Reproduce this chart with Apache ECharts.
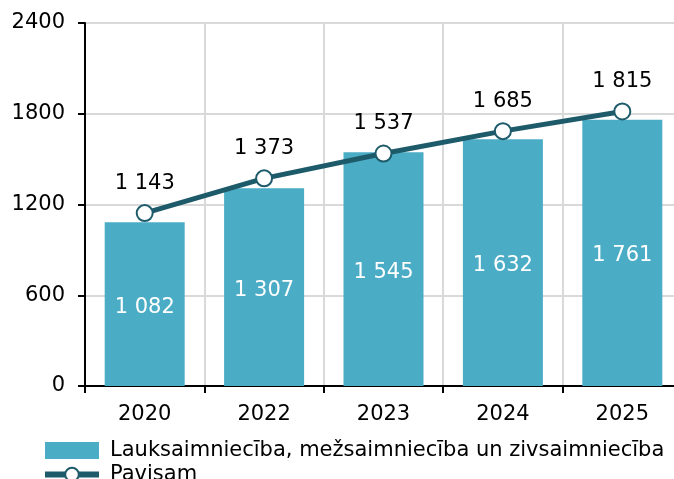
<!DOCTYPE html>
<html><head><meta charset="utf-8">
<script src="https://cdn.jsdelivr.net/npm/echarts@6/dist/echarts.min.js"></script>
<style>html,body{margin:0;padding:0;background:#fff;overflow:hidden;width:674px;height:479px}#c{width:682px;height:479px}</style>
</head><body><div id="c"></div>
<script>
const categories = ['2020','2022','2023','2024','2025'];
const barValues = [1082,1307,1545,1632,1761];
const lineValues = [1143,1373,1537,1685,1815];
const yTicks = [0,600,1200,1800,2400];
const barName = 'Lauksaimniecība, mežsaimniecība un zivsaimniecība';
const lineName = 'Pavisam';

const fmt = v => String(v).replace(/\B(?=(\d{3})+(?!\d))/g, ' ');
const FONT = 'DejaVu Sans';
const FS = 21;
const chart = echarts.init(document.getElementById('c'), null, {renderer:'canvas'});
chart.setOption({
  animation:false,
  textStyle:{fontFamily:FONT},
  grid:{left:85,right:0,top:23,bottom:93,containLabel:false},
  legend:{
    orient:'vertical', left:37, top:435, height:120, itemGap:3,
    itemWidth:54, itemHeight:17,
    textStyle:{fontFamily:FONT,fontSize:FS,color:'#000',padding:[0,0,0,6]},
    data:[{name:barName,icon:'rect'},{name:lineName,lineStyle:{width:6,color:'#1e5b6a'}}]
  },
  xAxis:{
    type:'category', data:categories,
    axisLine:{lineStyle:{color:'#000',width:2}},
    axisTick:{show:true,length:7,lineStyle:{color:'#000',width:2}},
    axisLabel:{fontFamily:FONT,fontSize:FS,color:'#000',margin:18},
    splitLine:{show:true,lineStyle:{color:'#d9d9d9',width:2}}
  },
  yAxis:{
    type:'value', min:yTicks[0], max:yTicks[yTicks.length-1], interval:600,
    axisLine:{show:true,lineStyle:{color:'#000',width:2}},
    axisTick:{show:true,length:7,lineStyle:{color:'#000',width:2}},
    axisLabel:{fontFamily:FONT,fontSize:FS,color:'#000',margin:20,formatter:v=>String(v)},
    splitLine:{show:true,lineStyle:{color:'#d9d9d9',width:2}}
  },
  series:[
    {name:barName,type:'bar',data:barValues,barWidth:'67%',
     itemStyle:{color:'#4bacc6'},
     label:{show:true,position:'inside',offset:[0,3],color:'#fff',fontFamily:FONT,fontSize:FS,formatter:p=>fmt(p.value)}},
    {name:lineName,type:'line',data:lineValues,
     lineStyle:{color:'#1e5b6a',width:5},
     itemStyle:{color:'#fff',borderColor:'#1e5b6a',borderWidth:2},
     symbol:'circle',symbolSize:16,
     label:{show:true,position:'top',distance:10,color:'#000',fontFamily:FONT,fontSize:FS,formatter:p=>fmt(p.value)}}
  ]
});
</script></body></html>
